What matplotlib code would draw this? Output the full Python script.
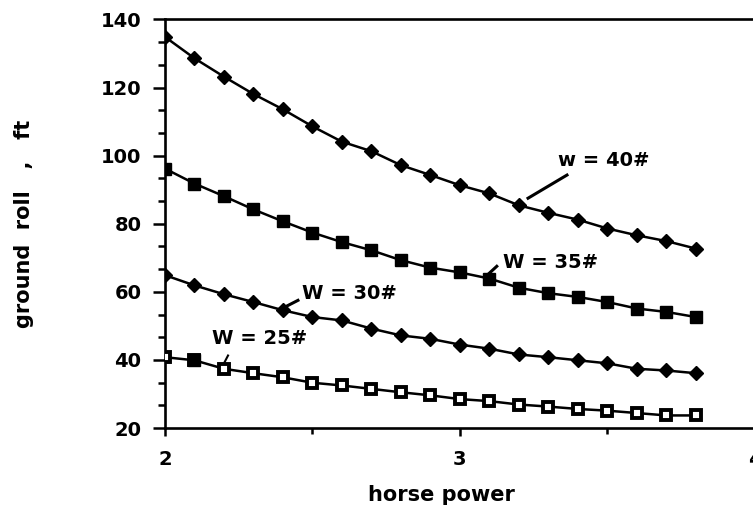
import numpy as np
import matplotlib.pyplot as plt
from matplotlib.ticker import MultipleLocator, AutoMinorLocator

# horse power, 2.0 to 3.8 in steps of 0.1
hp = [2.0, 2.1, 2.2, 2.3, 2.4, 2.5, 2.6, 2.7, 2.8, 2.9,
      3.0, 3.1, 3.2, 3.3, 3.4, 3.5, 3.6, 3.7, 3.8]

# ground roll (ft) for each gross weight
roll_40 = [134.9, 128.6, 123.2, 118.1, 113.6, 108.6, 104.1, 101.3, 97.2, 94.3,
           91.3, 88.9, 85.4, 83.2, 81.2, 78.6, 76.6, 74.9, 72.7]
roll_35 = [96.2, 91.8, 88.1, 84.2, 80.7, 77.4, 74.6, 72.2, 69.3, 67.1,
           65.7, 63.9, 61.2, 59.6, 58.5, 57.0, 55.1, 54.1, 52.6]
roll_30 = [64.9, 61.9, 59.3, 57.0, 54.6, 52.6, 51.6, 49.2, 47.2, 46.2,
           44.5, 43.3, 41.6, 40.8, 39.9, 39.0, 37.4, 36.9, 36.1]
roll_25 = [40.8, 39.9, 37.4, 36.1, 34.9, 33.3, 32.5, 31.5, 30.5, 29.6,
           28.5, 27.9, 26.9, 26.3, 25.6, 25.1, 24.4, 23.7, 23.7]

plt.rcParams['font.family'] = 'DejaVu Sans'
plt.rcParams['font.weight'] = 'bold'

fig = plt.figure(figsize=(7.53, 5.12), dpi=100)
ax = fig.add_axes([0.219, 0.164, 0.7835, 0.798])

lw = 1.8
ax.plot(hp, roll_40, color='black', lw=lw, marker='D', ms=7.5, zorder=3)
ax.plot(hp, roll_35, color='black', lw=lw, marker='s', ms=8.5, zorder=3)
ax.plot(hp, roll_30, color='black', lw=lw, marker='D', ms=7.5, zorder=3)
ax.plot(hp, roll_25, color='black', lw=lw, marker='s', ms=7.5,
        mfc='white', mec='black', mew=2.8, zorder=3)
ax.plot(hp[1:2], roll_25[1:2], color='black', lw=0, marker='s', ms=9, zorder=4)

ax.set_xlim(2, 4)
ax.set_ylim(20, 140)
ax.xaxis.set_major_locator(MultipleLocator(1))
ax.xaxis.set_minor_locator(MultipleLocator(0.5))
ax.yaxis.set_major_locator(MultipleLocator(20))
ax.yaxis.set_minor_locator(AutoMinorLocator(3))

for side in ['left', 'bottom', 'top']:
    ax.spines[side].set_linewidth(1.9)
ax.spines['right'].set_visible(False)

ax.tick_params(axis='both', which='major', direction='out', width=1.8,
               labelsize=14)
ax.tick_params(axis='y', which='major', length=9, pad=8)
ax.tick_params(axis='y', which='minor', length=5, width=1.8)
ax.tick_params(axis='x', which='major', length=6, pad=10)
ax.tick_params(axis='x', which='minor', length=4, width=1.8)

ax.text(0.468, -0.165, 'horse power', transform=ax.transAxes,
        fontsize=15, fontweight='bold', ha='center', va='center')
ax.text(-0.238, 0.5, 'ground  roll   ,   ft', transform=ax.transAxes,
        rotation=90, fontsize=15, fontweight='bold', ha='center', va='center')

# curve labels with short leader lines
ax.text(3.332, 98.7, 'w = 40#', fontsize=14, fontweight='bold', va='center')
ax.plot([3.231, 3.363], [87.5, 94.3], color='black', lw=2.2)

ax.text(3.146, 68.7, 'W = 35#', fontsize=14, fontweight='bold', va='center')
ax.plot([3.085, 3.125], [64.3, 67.5], color='black', lw=2.2)

ax.text(2.464, 59.6, 'W = 30#', fontsize=14, fontweight='bold', va='center')
ax.plot([2.397, 2.451], [55.1, 57.5], color='black', lw=2.2)

ax.text(2.159, 46.3, 'W = 25#', fontsize=14, fontweight='bold', va='center')
ax.plot([2.193, 2.214], [37.8, 41.3], color='black', lw=1.5)

fig.savefig('out.png', dpi=100)
